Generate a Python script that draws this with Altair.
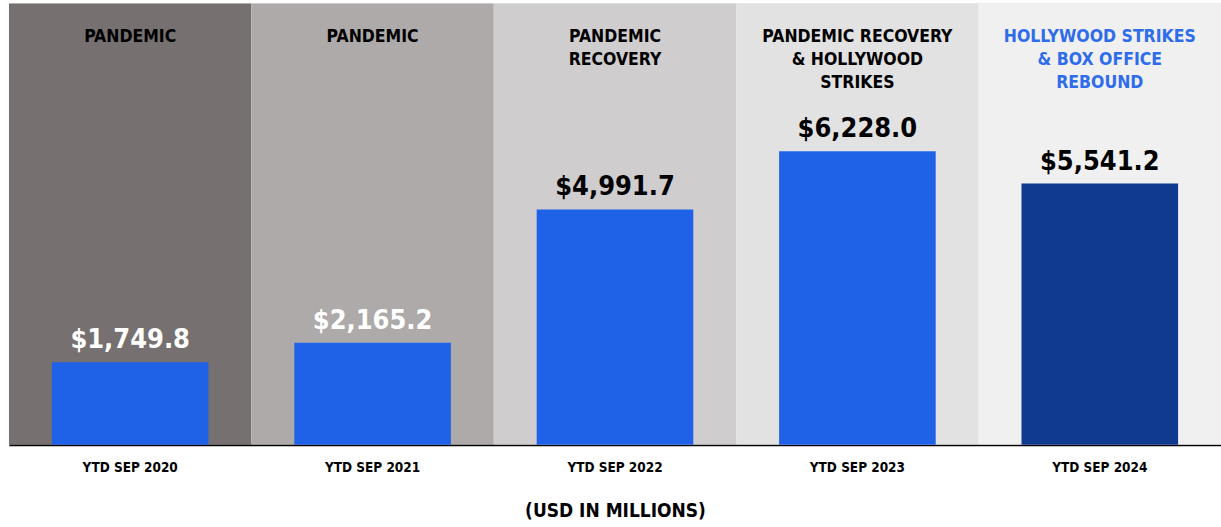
import altair as alt
import pandas as pd

periods = ["YTD SEP 2020", "YTD SEP 2021", "YTD SEP 2022", "YTD SEP 2023", "YTD SEP 2024"]
values = [1749.8, 2165.2, 4991.7, 6228.0, 5541.2]
headers = ["PANDEMIC", "PANDEMIC", "PANDEMIC\nRECOVERY",
           "PANDEMIC RECOVERY\n& HOLLYWOOD\nSTRIKES",
           "HOLLYWOOD STRIKES\n& BOX OFFICE\nREBOUND"]
band_colors = ["#767070", "#ADAAA9", "#CFCDCE", "#E2E2E2", "#F0F0F0"]
bar_colors = ["#1F62E8", "#1F62E8", "#1F62E8", "#1F62E8", "#0F3A8F"]
label_colors = ["#FFFFFF", "#FFFFFF", "#000000", "#000000", "#000000"]
header_colors = ["#000000", "#000000", "#000000", "#000000", "#2F6CEB"]

df = pd.DataFrame({
    "period": periods, "value": values, "header": headers,
    "band_color": band_colors, "bar_color": bar_colors,
    "label_color": label_colors, "header_color": header_colors,
})

FONT = "DejaVu Sans Condensed, Liberation Sans, sans-serif"
W, H = 1214, 442

x = alt.X("period:N", sort=periods,
          scale=alt.Scale(paddingInner=0.354, paddingOuter=0.177),
          axis=alt.Axis(title="(USD IN MILLIONS)", labelAngle=0, ticks=False,
                        domainColor="#000000", domainWidth=2,
                        labelFont=FONT, labelFontSize=13.5, labelFontWeight="bold",
                        labelColor="#000000", labelPadding=16,
                        titleFont=FONT, titleFontSize=19, titleFontWeight="bold",
                        titleColor="#000000", titlePadding=27))
y = alt.Y("value:Q", scale=alt.Scale(domain=[0, 9364], nice=False), axis=None)

base = alt.Chart(df)

bg = base.mark_bar(width=alt.RelativeBandSize(1.548)).encode(
    x=x, y=alt.value(0), y2=alt.value(H),
    color=alt.Color("band_color:N", scale=None))

bars = base.mark_bar().encode(
    x=x, y=y, color=alt.Color("bar_color:N", scale=None))

labels = base.transform_calculate(
    label="'$' + format(datum.value, ',.1f')"
).mark_text(font=FONT, fontSize=27, fontWeight="bold", baseline="bottom", dy=-8).encode(
    x=x, y=y, text="label:N", color=alt.Color("label_color:N", scale=None))

heads = base.mark_text(font=FONT, fontSize=17.5, fontWeight="bold", baseline="top",
                       lineBreak="\n", lineHeight=23).encode(
    x=x, y=alt.value(25), text="header:N",
    color=alt.Color("header_color:N", scale=None))

chart = alt.layer(bg, bars, labels, heads).properties(
    width=W, height=H,
    padding={"left": 9, "top": 3, "right": 0, "bottom": 82},
    autosize=alt.AutoSizeParams(type="none"),
).configure_view(stroke=None).configure(background="#FFFFFF")

chart.save("out.html", embed_options={"renderer": "svg", "actions": False})
